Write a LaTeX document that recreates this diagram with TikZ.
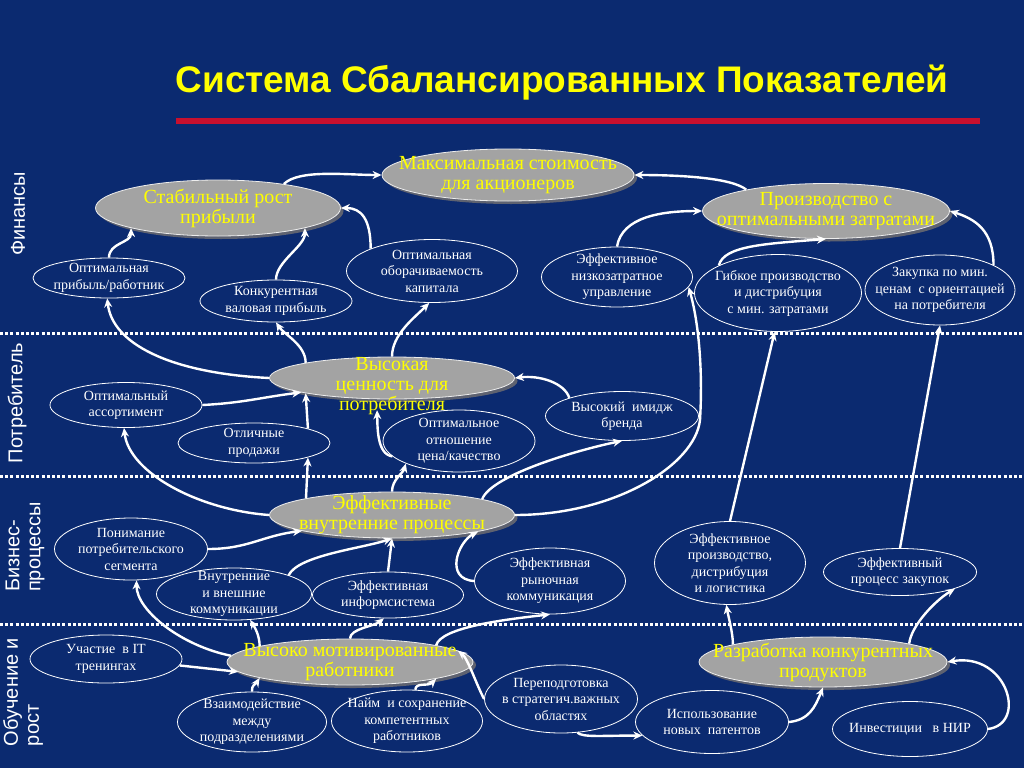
\documentclass[tikz,border=0pt]{standalone}
\usepackage{fontspec}
\setmainfont{Liberation Serif}
\setsansfont{Liberation Sans}
\usetikzlibrary{shapes.geometric, arrows.meta, shadows}
\definecolor{bsnavy}{HTML}{0B2A70}
\definecolor{bsgray}{HTML}{A3A3A3}
\definecolor{bsshade}{HTML}{5E6270}
\definecolor{bsyellow}{HTML}{FFFF00}
\definecolor{bsred}{HTML}{C8102E}

\begin{document}
\begin{tikzpicture}[x=1pt, y=-1pt,
    goal/.style={
      ellipse,
      fill=bsgray,
      draw=white!80!bsgray,
      line width=0.8pt,
      text=bsyellow,
      align=center,
      inner sep=-30pt,
      font=\fontsize{20}{20}\selectfont,
      general shadow={fill=bsshade, shadow xshift=3pt, shadow yshift=-3pt}
    },
    driver/.style={
      ellipse,
      draw=white,
      line width=0.8pt,
      text=white,
      align=center,
      inner sep=-30pt,
      font=\fontsize{14}{16.5}\selectfont
    },
    lane/.style={white, line width=3pt, dash pattern=on 3pt off 2.2pt},
    lanelabel/.style={rotate=90, text=white, align=left, font=\sffamily\fontsize{20}{21}\selectfont},
    flow/.style={white, line width=2.4pt, -{Stealth[length=9pt, width=8pt]}}
  ]
    \fill[bsnavy] (0,0) rectangle (1024,768);
    \useasboundingbox (0,0) rectangle (1024,768);

    \node[text=bsyellow, font=\sffamily\bfseries\fontsize{37}{40}\selectfont] (title) at (562,83) {Система Сбалансированных Показателей};
    \draw[bsred, line width=6pt] (176,121) -- (980,121);

    \draw[lane] (0,333) -- (1024,333);
    \draw[lane] (0,476) -- (1024,476);
    \draw[lane] (0,624) -- (1024,624);

    \node[lanelabel] (fin) at (18,214) {Финансы};
    \node[lanelabel] (cust) at (17,403) {Потребитель};
    \node[lanelabel] (proc) at (25,547) {Бизнес-\\процессы};
    \node[lanelabel] (learn) at (23,692) {Обучение и\\рост};

    % main goals
    \node[goal, minimum width=252pt, minimum height=52pt] (value) at (508,175) {Максимальная стоимость\\для акционеров};
    \node[goal, minimum width=245pt, minimum height=56pt] (profit) at (218,208) {Стабильный рост\\прибыли};
    \node[goal, minimum width=247pt, minimum height=55pt] (cost) at (826,211) {Производство с\\оптимальными затратами};
    \node[goal, minimum width=245pt, minimum height=42pt] (custval) at (392,378) {\rule{0pt}{30pt}Высокая\\ценность для\\потребителя};
    \node[goal, minimum width=245pt, minimum height=46pt] (internal) at (392,515) {Эффективные\\внутренние процессы};
    \node[goal, minimum width=246pt, minimum height=46pt] (staff) at (350,662) {Высоко мотивированные\\работники};
    \node[goal, minimum width=248pt, minimum height=50pt] (products) at (823,662) {Разработка конкурентных\\продуктов};

    % finance drivers
    \node[driver, minimum width=152pt, minimum height=40pt] (profemp) at (109,278) {Оптимальная\\прибыль/работник};
    \node[driver, minimum width=152pt, minimum height=42pt] (margin) at (276,301) {Конкурентная\\валовая прибыль};
    \node[driver, minimum width=171pt, minimum height=63pt] (turnover) at (432,271) {Оптимальная\\оборачиваемость\\капитала};
    \node[driver, minimum width=151pt, minimum height=60pt] (lowcost) at (617,277) {Эффективное\\низкозатратное\\управление};
    \node[driver, minimum width=167pt, minimum height=77pt] (flexprod) at (778,293) {Гибкое производство\\и дистрибуция\\с мин. затратами};
    \node[driver, minimum width=150pt, minimum height=70pt] (purchase) at (940,290) {Закупка по мин.\\ценам\ \ с ориентацией\\на потребителя};

    % customer drivers
    \node[driver, minimum width=152pt, minimum height=45pt] (assort) at (126,405) {Оптимальный\\ассортимент};
    \node[driver, minimum width=152pt, minimum height=40pt] (sales) at (254,443) {Отличные\\продажи};
    \node[driver, minimum width=152pt, minimum height=62pt] (priceq) at (459,441) {Оптимальное\\отношение\\цена/качество};
    \node[driver, minimum width=153pt, minimum height=49pt] (brand) at (622,416) {Высокий\ \ имидж\\бренда};

    % process drivers
    \node[driver, minimum width=153pt, minimum height=62pt] (segment) at (131,549) {Понимание\\потребительского\\сегмента};
    \node[driver, minimum width=155pt, minimum height=52pt] (comms) at (234,594) {Внутренние\\и внешние\\коммуникации};
    \node[driver, minimum width=151pt, minimum height=46pt] (infosys) at (388,595) {Эффективная\\информсистема};
    \node[driver, minimum width=151pt, minimum height=66pt] (market) at (550,581) {Эффективная\\рыночная\\коммуникация};
    \node[driver, minimum width=151pt, minimum height=83pt] (logist) at (730,563) {Эффективное\\производство,\\дистрибуция\\и логистика};
    \node[driver, minimum width=153pt, minimum height=47pt] (procure) at (900,572) {Эффективный\\процесс закупок};

    % learning drivers
    \node[driver, minimum width=152pt, minimum height=48pt] (ittrain) at (106,659) {Участие\ \ в IT\\тренингах};
    \node[driver, minimum width=149pt, minimum height=60pt] (interdep) at (252,722) {Взаимодействие\\между\\подразделениями};
    \node[driver, minimum width=151pt, minimum height=62pt] (hiring) at (407,721) {Найм\ \ и сохранение\\компетентных\\работников};
    \node[driver, minimum width=153pt, minimum height=68pt] (retrain) at (561,699) {Переподготовка\\в стратегич.важных\\областях};
    \node[driver, minimum width=153pt, minimum height=63pt] (patents) at (712,722) {Использование\\новых\ \ патентов};
    \node[driver, minimum width=155pt, minimum height=55pt] (rnd) at (910,729) {Инвестиции\ \ \ в НИР};

    % finance
    \draw[flow] (profit.20) .. controls +(15,-15) and +(-35,0) .. (value.west);
    \draw[flow] (cost.165) .. controls +(-15,-12) and +(45,0) .. (value.east);
    \draw[flow] (profemp.north) .. controls +(0,-15) and +(0,15) .. (profit.193);
    \draw[flow] (margin.north) .. controls +(0,-18) and +(0,18) .. (profit.-13);
    \draw[flow] (turnover.160) .. controls +(0,-30) and +(20,0) .. (profit.east);
    \draw[flow] (lowcost.north) .. controls +(5,-30) and +(-40,0) .. (cost.west);
    \draw[flow] (flexprod.155) .. controls +(5,-20) and +(-60,5) .. (cost.south);
    \draw[flow] (purchase.25) .. controls +(0,-35) and +(25,8) .. (cost.east);

    % customer
    \draw[flow] (custval.west) .. controls +(-100,-5) and +(5,45) .. (profemp.265);
    \draw[flow] (custval.170) .. controls +(0,-18) and +(8,12) .. (margin.south);
    \draw[flow] (custval.north) .. controls +(0,-22) and +(-15,15) .. (turnover.265);
    \draw[flow] (assort.east) .. controls +(40,-2) and +(-40,5) .. (custval.189);
    \draw[flow] (sales.15) -- (custval.190);
    \draw[flow, shorten >=11pt] (priceq.193) .. controls +(-16,-2) and +(1,26) .. (custval.234);
    \draw[flow] (brand.161) .. controls +(-5,-15) and +(25,-3) .. (custval.east);

    % internal processes
    \coordinate (loopbend) at (700,420);
    \draw[flow] (internal.west) .. controls +(-70,-5) and +(5,45) .. (assort.265);
    \draw[flow] (internal.169) -- (sales.-15);
    \draw[flow] (internal.north) .. controls +(0,-12) and +(-3,10) .. (priceq.203);
    \draw[flow] (internal.10) .. controls +(10,-25) and +(-40,8) .. (brand.south);
    \draw[flow] (internal.east) .. controls +(100,0) and +(-5,45) .. (loopbend) .. controls +(3,-50) and +(10,35) .. (lowcost.-8);
    \draw[flow] (segment.east) .. controls +(40,0) and +(-40,5) .. (internal.190);
    \draw[flow] (comms.19) .. controls +(10,-20) and +(-30,10) .. (internal.south);
    \draw[flow] (infosys.north) -- (internal.south);
    \draw[flow] (market.west) .. controls +(-30,-2) and +(-20,10) .. (internal.-11);
    \draw[flow] (logist.north) -- (flexprod.265);
    \draw[flow] (procure.north) -- (purchase.south);

    % learning and growth
    \draw[flow] (staff.170) .. controls +(0,-10) and +(5,8) .. (comms.-58);
    \draw[flow] (staff.177) .. controls +(-50,-10) and +(0,30) .. (segment.-80);
    \draw[flow] (staff.north) .. controls +(0,-10) and +(-10,8) .. (infosys.260);
    \draw[flow] (staff.11) .. controls +(5,-18) and +(-45,5) .. (market.south);
    \draw[flow] (ittrain.-5) -- (staff.185);
    \draw[flow] (interdep.north) .. controls +(0,-8) and +(-5,8) .. (staff.190);
    \draw[flow] (hiring.75) .. controls +(0,-8) and +(-8,8) .. (staff.-11);
    \draw[flow] (retrain.west) .. controls +(-8,-15) and +(10,8) .. (staff.6);
    \draw[flow] (retrain.-64) .. controls +(5,5) and +(-40,0) .. (patents.191);
    \draw[flow] (patents.east) .. controls +(20,-2) and +(-8,20) .. (products.south);
    \draw[flow] (rnd.east) .. controls +(40,-5) and +(60,-10) .. (products.east);
    \draw[flow] (products.169) .. controls +(0,-12) and +(2,12) .. (logist.265);
    \draw[flow] (products.12) .. controls +(2,-18) and +(-20,12) .. (procure.-17);
  \end{tikzpicture}
\end{document}
